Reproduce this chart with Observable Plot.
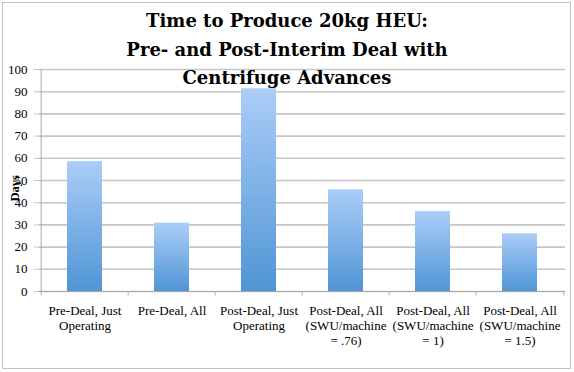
<!DOCTYPE html>
<html>
<head>
<meta charset="utf-8">
<script src="https://cdn.jsdelivr.net/npm/d3@7"></script>
<script src="https://cdn.jsdelivr.net/npm/@observablehq/plot@0.6"></script>
<style>
  html, body { margin: 0; padding: 0; background: #fff; }
  #wrap { position: relative; width: 574px; height: 372px; overflow: hidden; }
  #border { position: absolute; left: 2px; top: 2px; width: 567px; height: 365px; border: 1px solid #c4c4c4; pointer-events: none; }
  #title { position: absolute; left: 0; top: 7px; width: 574px; text-align: center;
    font-family: "DejaVu Serif", serif; font-weight: bold; font-size: 18px; line-height: 28.5px; color: #000; }
  #chart { position: absolute; left: 0; top: 0; }
</style>
</head>
<body>
<div id="wrap">
  <div id="chart"></div>
  <div id="title">Time to Produce 20kg HEU:<br>Pre- and Post-Interim Deal with<br>Centrifuge Advances</div>
  <div id="border"></div>
</div>
<script>
const categories = [
  "Pre-Deal, Just Operating",
  "Pre-Deal, All",
  "Post-Deal, Just Operating",
  "Post-Deal, All (SWU/machine = .76)",
  "Post-Deal, All (SWU/machine = 1)",
  "Post-Deal, All (SWU/machine = 1.5)"
];
const tickLabels = [
  "Pre-Deal, Just\nOperating",
  "Pre-Deal, All",
  "Post-Deal, Just\nOperating",
  "Post-Deal, All\n(SWU/machine\n= .76)",
  "Post-Deal, All\n(SWU/machine\n= 1)",
  "Post-Deal, All\n(SWU/machine\n= 1.5)"
];
const days = [58.5, 30.8, 91.3, 45.8, 36, 26];
const yTicks = [0, 10, 20, 30, 40, 50, 60, 70, 80, 90, 100];
const yLabel = "Days";

const data = categories.map((c, i) => ({category: c, days: days[i]}));
const labelOf = new Map(categories.map((c, i) => [c, tickLabels[i]]));

const W = 574, H = 372, mL = 39, mR = 9, mT = 69, mB = 81;
const pInner = 0.6, pOuter = 0.3;
const step = (W - mL - mR) / (categories.length - pInner + 2 * pOuter);

const plot = Plot.plot({
  width: W,
  height: H,
  marginLeft: mL,
  marginRight: mR,
  marginTop: mT,
  marginBottom: mB,
  style: {fontFamily: "'Liberation Serif', serif", fontSize: "13px", color: "#000", background: "transparent"},
  x: {domain: categories, paddingInner: pInner, paddingOuter: pOuter},
  y: {domain: [0, 100]},
  marks: [
    Plot.gridY(yTicks, {stroke: "#c6c6c6", strokeOpacity: 1, strokeWidth: 1.6}),
    Plot.barY(data, {x: "category", y: "days", fill: "url(#barGrad)"}),
    Plot.axisY(yTicks, {tickSize: 5, tickPadding: 7, stroke: "#c6c6c6", label: null, fontSize: 13}),
    Plot.axisX({tickSize: 0, tickPadding: 13, label: null, tickFormat: d => labelOf.get(d), lineHeight: 1.15, fontSize: 13}),
    Plot.ruleX(categories, {x: d => d, dx: -step / 2, y1: 0, y2: -2, stroke: "#b0b0b0"}),
    Plot.ruleX([categories[categories.length - 1]], {x: d => d, dx: step / 2, y1: 0, y2: -2, stroke: "#b0b0b0"}),
    Plot.ruleX([categories[0]], {x: d => d, dx: -step / 2, y1: 0, y2: 100, stroke: "#a8a8a8"}),
    Plot.ruleY([0], {stroke: "#a8a8a8"}),
    Plot.text([yLabel], {frameAnchor: "left", dx: -25, dy: 21, rotate: -90, fontWeight: "bold", fontSize: 12.5, fill: "#000"})
  ]
});

const defs = d3.select(plot).insert("defs", ":first-child");
const grad = defs.append("linearGradient").attr("id", "barGrad").attr("x1", 0).attr("y1", 0).attr("x2", 0).attr("y2", 1);
grad.append("stop").attr("offset", "0%").attr("stop-color", "#abcdf7");
grad.append("stop").attr("offset", "100%").attr("stop-color", "#5095d6");

document.getElementById("chart").appendChild(plot);
</script>
</body>
</html>
